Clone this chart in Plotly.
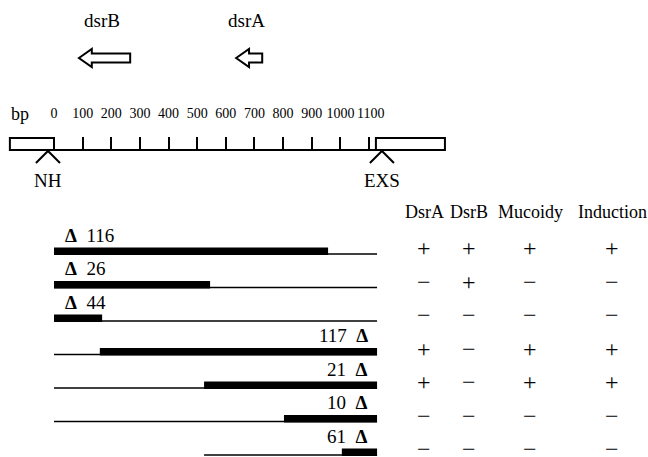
import plotly.graph_objects as go

# ---------------- data ----------------
gene_names = ["dsrB", "dsrA"]
gene_start = [266, 727]      # bp (transcription start, right end)
gene_end = [87, 636]         # bp (arrow tip)

scale_ticks = [0, 100, 200, 300, 400, 500, 600, 700, 800, 900, 1000, 1100]
scale_labels = ["0", "100", "200", "300", "400", "500", "600", "700", "800", "900", "1000", "\u00a01100"]
insert_end = 1124            # bp end of cloned fragment
site_names = ["NH", "EXS"]
site_pos = [-21, 1145]       # bp

deletion_names = ["116", "26", "44", "117", "21", "10", "61"]
deletion_side = ["left", "left", "left", "right", "right", "right", "right"]
fragment_start = [0, 0, 0, 0, 0, 0, 524]
fragment_end = [1128, 1128, 1128, 1128, 1128, 1128, 1128]
retained_start = [0, 0, 0, 160, 524, 803, 1005]
retained_end = [957, 545, 168, 1128, 1128, 1128, 1128]

pheno_headers = ["DsrA", "DsrB", "Mucoidy", "Induction"]
pheno_dsrA = ["+", "−", "−", "+", "+", "−", "−"]
pheno_dsrB = ["+", "+", "−", "−", "−", "−", "−"]
pheno_mucoidy = ["+", "−", "−", "+", "+", "−", "−"]
pheno_induction = ["+", "−", "−", "+", "+", "−", "−"]

# ---------------- layout constants ----------------
W, H = 648, 457
PX_PER_BP = 0.2864
X0_PX = 54
FONT = "Liberation Serif"
row_base = [255 + 33.5 * i for i in range(len(deletion_names))]
col_x = [424, 469, 530, 612]
DELTA = "<b>Δ</b>"

fig = go.Figure()
# invisible traces to instantiate axes
fig.add_trace(go.Scatter(x=[0], y=[0], mode="markers", marker=dict(opacity=0), hoverinfo="skip"))
fig.add_trace(go.Scatter(x=[0], y=[0], xaxis="x2", mode="markers", marker=dict(opacity=0), hoverinfo="skip"))

shapes = []
ann = []

def txt(x, y, s, size=18, xref="x", xanchor="center", yanchor="middle"):
    ann.append(dict(x=x, y=y, xref=xref, yref="y", text=s, showarrow=False,
                    xanchor=xanchor, yanchor=yanchor,
                    font=dict(family=FONT, size=size, color="black")))

# gene arrows
head = 45
for n, s, t in zip(gene_names, gene_start, gene_end):
    yc = 58
    path = (f"M {t},{yc} L {t+head},{yc-9} L {t+head},{yc-4.5} L {s},{yc-4.5} "
            f"L {s},{yc+4.5} L {t+head},{yc+4.5} L {t+head},{yc+9} Z")
    shapes.append(dict(type="path", path=path, xref="x", yref="y",
                       line=dict(color="black", width=2), fillcolor="rgba(0,0,0,0)"))
    txt((s + t) / 2 - 8, 20, n, size=19)

# scale bar
shapes.append(dict(type="line", xref="x", yref="y", x0=0, x1=insert_end, y0=150, y1=150,
                   line=dict(color="black", width=2)))
shapes.append(dict(type="rect", xref="x", yref="y", x0=-154, x1=0, y0=138, y1=150,
                   line=dict(color="black", width=2)))
shapes.append(dict(type="rect", xref="x", yref="y", x0=insert_end, x1=1365, y0=138, y1=150,
                   line=dict(color="black", width=2)))
ann.append(dict(x=20, y=114, xref="x2", yref="y", text="bp", showarrow=False,
                font=dict(family=FONT, size=18, color="black")))

# restriction sites
for n, p in zip(site_names, site_pos):
    shapes.append(dict(type="path", xref="x", yref="y",
                       path=f"M {p-42},163 L {p},151 L {p+42},163",
                       line=dict(color="black", width=2), fillcolor="rgba(0,0,0,0)"))
    txt(p, 180, n, size=19)

# deletion rows
for i, nm in enumerate(deletion_names):
    yb = row_base[i]
    shapes.append(dict(type="line", xref="x", yref="y", x0=fragment_start[i], x1=fragment_end[i],
                       y0=yb - 1, y1=yb - 1, line=dict(color="black", width=1.6)))
    shapes.append(dict(type="rect", xref="x", yref="y", x0=retained_start[i], x1=retained_end[i],
                       y0=yb - 7.5, y1=yb, line=dict(width=0), fillcolor="black"))
    if deletion_side[i] == "left":
        txt(retained_start[i] + 30, yb - 20, DELTA + "\u00a0\u00a0" + nm, size=19, xanchor="left")
    else:
        txt(retained_end[i] - 25, yb - 20, nm + "\u00a0\u00a0" + DELTA, size=19, xanchor="right")

# phenotype table
for j, h in enumerate(pheno_headers):
    txt(col_x[j], 212, h, xref="x2")
for j, col in enumerate([pheno_dsrA, pheno_dsrB, pheno_mucoidy, pheno_induction]):
    for i, v in enumerate(col):
        txt(col_x[j], row_base[i] - 7, v, size=24, xref="x2")

fig.update_layout(
    width=W, height=H, margin=dict(l=0, r=0, t=0, b=0),
    paper_bgcolor="white", plot_bgcolor="white", showlegend=False,
    shapes=shapes, annotations=ann,
    xaxis=dict(range=[-X0_PX / PX_PER_BP, (W - X0_PX) / PX_PER_BP],
               tickvals=scale_ticks, ticktext=scale_labels, tickangle=0,
               side="top", anchor="free", position=1 - 150 / H,
               ticks="outside", ticklen=13, tickwidth=2, tickcolor="black",
               showgrid=False, zeroline=False, showline=False,
               tickfont=dict(family=FONT, size=14, color="black"),
               ticklabelstandoff=13, fixedrange=True),
    xaxis2=dict(range=[0, W], overlaying="x", visible=False, fixedrange=True),
    yaxis=dict(range=[H, 0], visible=False, fixedrange=True),
)

fig.write_html("out.html", config={"displayModeBar": False},
               post_script="document.body.style.margin='0px';")
